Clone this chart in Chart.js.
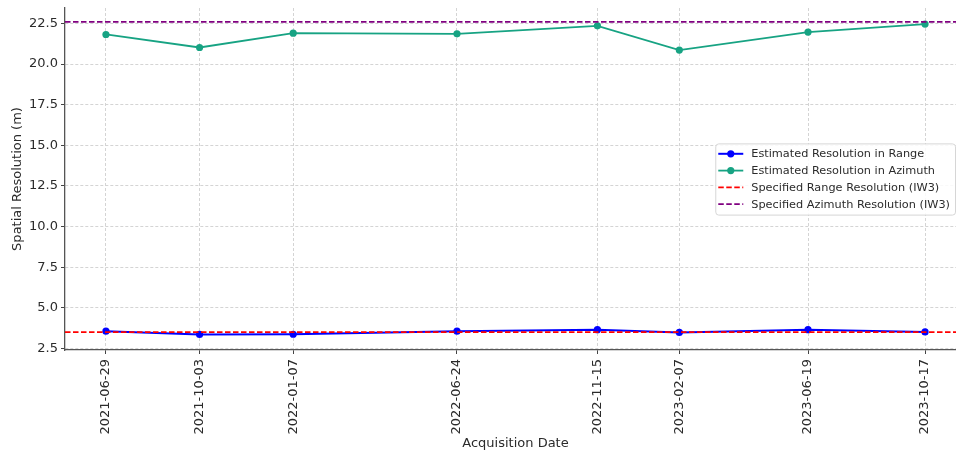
<!DOCTYPE html>
<html>
<head>
<meta charset="utf-8">
<script src="https://cdn.jsdelivr.net/npm/chart.js@4.4.0/dist/chart.umd.min.js"></script>
<style>
  html, body { margin: 0; padding: 0; overflow: hidden; background: #fff; width: 956px; height: 456px; }
  #wrap { position: relative; width: 970px; height: 456px; }
</style>
</head>
<body>
<div id="wrap"><canvas id="c" width="970" height="456"></canvas></div>
<script>
// Acquisition dates and estimated resolutions (metres)
const acquisitionDates = ['2021-06-29', '2021-10-03', '2022-01-07', '2022-06-24', '2022-11-15', '2023-02-07', '2023-06-19', '2023-10-17'];
const rangeResolution = [3.56, 3.36, 3.37, 3.56, 3.65, 3.48, 3.65, 3.51];
const azimuthResolution = [21.82, 21.02, 21.90, 21.86, 22.35, 20.86, 21.97, 22.46];
// Nominal IW3 resolutions
const specifiedRange = 3.5;
const specifiedAzimuth = 22.6;
// Y axis ticks
const yTickValues = [2.5, 5, 7.5, 10, 12.5, 15, 17.5, 20, 22.5];
const seriesLabels = [
  'Estimated Resolution in Range',
  'Estimated Resolution in Azimuth',
  'Specified Range Resolution (IW3)',
  'Specified Azimuth Resolution (IW3)'
];

const FONT = "'DejaVu Sans', 'Liberation Sans', sans-serif";
const TEXT = '#2b2b2b';
const DAY = 86400000;
const toDay = s => Date.parse(s + 'T00:00:00Z') / DAY;
const dayToLabel = d => new Date(Math.round(d) * DAY).toISOString().slice(0, 10);

const xDays = acquisitionDates.map(toDay);
const span = xDays[xDays.length - 1] - xDays[0];
const xMin = xDays[0] - span * 0.05;
const xMax = xDays[xDays.length - 1] + span * 0.05;

const pts = vals => vals.map((v, i) => ({ x: xDays[i], y: v }));
const hline = v => [{ x: xMin, y: v }, { x: xMax, y: v }];

// Legend drawn inside the plot area, right-centred
const innerLegend = {
  id: 'innerLegend',
  afterDraw(chart) {
    const ctx = chart.ctx;
    const area = chart.chartArea;
    const ds = chart.data.datasets;
    ctx.save();
    ctx.font = '11.3px ' + FONT;
    let maxW = 0;
    ds.forEach(d => { maxW = Math.max(maxW, ctx.measureText(d.label).width); });
    const rowH = 16.8;
    const w = 36 + maxW + 5;
    const h = rowH * ds.length + 4;
    const right = 955;
    const x = right - w;
    const y = (area.top + area.bottom) / 2 - h / 2;
    // frame
    ctx.fillStyle = 'rgba(255,255,255,0.85)';
    ctx.strokeStyle = '#d6d6d6';
    ctx.lineWidth = 1;
    ctx.beginPath();
    if (ctx.roundRect) ctx.roundRect(x + 0.5, y + 0.5, w, h, 3); else ctx.rect(x + 0.5, y + 0.5, w, h);
    ctx.fill();
    ctx.stroke();
    ds.forEach((d, i) => {
      const cy = y + 2 + rowH * (i + 0.5);
      const lx0 = x + 3, lx1 = x + 28;
      ctx.strokeStyle = d.borderColor;
      ctx.lineWidth = d.borderWidth;
      ctx.setLineDash(d.borderDash || []);
      ctx.beginPath();
      ctx.moveTo(lx0, cy);
      ctx.lineTo(lx1, cy);
      ctx.stroke();
      ctx.setLineDash([]);
      if (d.pointRadius > 0) {
        ctx.fillStyle = d.pointBackgroundColor;
        ctx.beginPath();
        ctx.arc((lx0 + lx1) / 2, cy, d.pointRadius, 0, Math.PI * 2);
        ctx.fill();
      }
      ctx.fillStyle = TEXT;
      ctx.textBaseline = 'middle';
      ctx.textAlign = 'left';
      ctx.fillText(d.label, x + 36, cy + 0.5);
    });
    ctx.restore();
  }
};

new Chart(document.getElementById('c'), {
  type: 'line',
  data: {
    datasets: [
      {
        label: seriesLabels[0], data: pts(rangeResolution),
        borderColor: '#0000ff', backgroundColor: '#0000ff', pointBackgroundColor: '#0000ff',
        borderWidth: 2, pointRadius: 3.6, pointBorderWidth: 0, order: 4
      },
      {
        label: seriesLabels[1], data: pts(azimuthResolution),
        borderColor: '#17a383', backgroundColor: '#17a383', pointBackgroundColor: '#17a383',
        borderWidth: 1.8, pointRadius: 3.6, pointBorderWidth: 0, order: 3
      },
      {
        label: seriesLabels[2], data: hline(specifiedRange),
        borderColor: '#ff0000', borderWidth: 1.7, borderDash: [5.5, 2.5], pointRadius: 0, order: 2
      },
      {
        label: seriesLabels[3], data: hline(specifiedAzimuth),
        borderColor: '#800080', borderWidth: 1.7, borderDash: [5.5, 2.5], pointRadius: 0, order: 1
      }
    ]
  },
  options: {
    responsive: false,
    animation: false,
    events: [],
    layout: { padding: { top: 8, right: 0, bottom: 0, left: 0 } },
    plugins: { legend: { display: false }, tooltip: { enabled: false } },
    elements: { line: { tension: 0, fill: false } },
    scales: {
      x: {
        type: 'linear', min: xMin, max: xMax,
        afterBuildTicks: s => { s.ticks = xDays.map(v => ({ value: v })); },
        afterFit: s => { s.height = 106; s.paddingLeft = 0; s.paddingRight = 0; },
        ticks: {
          callback: v => dayToLabel(v), autoSkip: false, minRotation: 90, maxRotation: 90,
          color: TEXT, font: { family: FONT, size: 13 }, padding: 5
        },
        grid: { color: '#d4d4d4', tickColor: '#444', tickLength: 4, tickBorderDash: [] },
        border: { color: '#555', width: 1.3, dash: [3, 2] },
        title: {
          display: true, text: 'Acquisition Date', color: TEXT,
          font: { family: FONT, size: 13 }, padding: { top: 0, bottom: 5 }
        }
      },
      y: {
        type: 'linear', min: 2.4, max: 23.45,
        afterBuildTicks: s => { s.ticks = yTickValues.map(v => ({ value: v })); },
        afterFit: s => { s.width = 65; s.paddingTop = 0; s.paddingBottom = 0; },
        ticks: {
          callback: v => v.toFixed(1), color: TEXT,
          font: { family: FONT, size: 13 }, padding: 3
        },
        grid: { color: '#d4d4d4', tickColor: '#444', tickLength: 4, tickBorderDash: [] },
        border: { color: '#555', width: 1.3, dash: [3, 2] },
        title: {
          display: true, text: 'Spatial Resolution (m)', color: TEXT,
          font: { family: FONT, size: 13 }, padding: { top: 10, bottom: 0 }
        }
      }
    }
  },
  plugins: [innerLegend]
});
</script>
</body>
</html>
